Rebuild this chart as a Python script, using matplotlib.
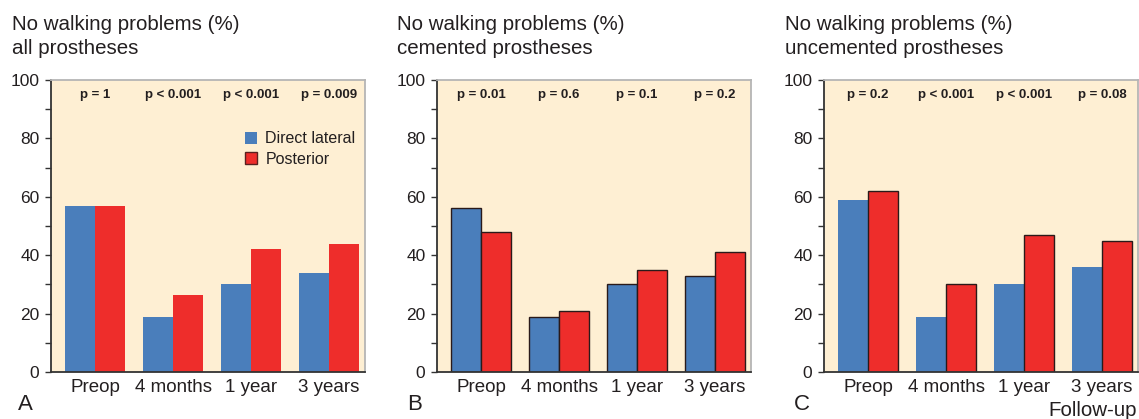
import matplotlib
matplotlib.use("Agg")
import numpy as np
import matplotlib.pyplot as plt
from matplotlib.ticker import MultipleLocator

plt.rcParams['font.family'] = ['Liberation Sans', 'DejaVu Sans']

# data
followup = ["Preop", "4 months", "1 year", "3 years"]
series_names = ["Direct lateral", "Posterior"]

all_lateral = [57, 19, 30, 34]
all_posterior = [57, 26.5, 42, 44]
all_pvals = ["p = 1", "p < 0.001", "p < 0.001", "p = 0.009"]

cem_lateral = [56, 19, 30, 33]
cem_posterior = [48, 21, 35, 41]
cem_pvals = ["p = 0.01", "p = 0.6", "p = 0.1", "p = 0.2"]

unc_lateral = [59, 19, 30, 36]
unc_posterior = [62, 30, 47, 45]
unc_pvals = ["p = 0.2", "p < 0.001", "p < 0.001", "p = 0.08"]

subtitles = ["all prostheses", "cemented prostheses", "uncemented prostheses"]
letters = ["A", "B", "C"]

BLUE = "#4a7ebb"
RED = "#ee2d2b"
BG = "#feefd3"
TXT = "#231f20"

W, H = 1139, 419
fig = plt.figure(figsize=(W / 100, H / 100), dpi=100)

# panel geometry in pixels: (axes left, title left, letter left)
panels = [(51, 12, 18), (437, 397, 407), (824, 785, 794)]
ax_w, ax_top, ax_bot = 314, 80, 372

data = [
    (all_lateral, all_posterior, all_pvals, (None, None)),
    (cem_lateral, cem_posterior, cem_pvals, ("#2a1a1a", "#2a1a1a")),
    (unc_lateral, unc_posterior, unc_pvals, (None, "#2a1a1a")),
]

x = np.arange(len(followup))
bw = 0.385

for i, ((axl, tl, ll), (lat, post, pv, edges)) in enumerate(zip(panels, data)):
    ax = fig.add_axes([axl / W, 1 - ax_bot / H, ax_w / W, (ax_bot - ax_top) / H])
    ax.set_facecolor(BG)
    kw1 = dict(edgecolor=edges[0], linewidth=1.0) if edges[0] else dict(linewidth=0)
    kw2 = dict(edgecolor=edges[1], linewidth=1.0) if edges[1] else dict(linewidth=0)
    ax.bar(x - bw / 2, lat, bw, color=BLUE, label=series_names[0], **kw1)
    ax.bar(x + bw / 2, post, bw, color=RED, label=series_names[1], **kw2)

    ax.set_xlim(-0.564, 3.46)
    ax.set_ylim(0, 100)
    ax.yaxis.set_major_locator(MultipleLocator(20))
    ax.yaxis.set_minor_locator(MultipleLocator(10))
    ax.tick_params(axis='y', which='both', length=4.3, width=1, color="#333333",
                   labelsize=12.5, labelcolor=TXT, pad=4)
    ax.set_xticks(x)
    ax.set_xticklabels(followup)
    ax.tick_params(axis='x', length=0, labelsize=13.5, labelcolor=TXT, pad=5)

    for s in ["left", "bottom"]:
        ax.spines[s].set_color("#333333")
        ax.spines[s].set_linewidth(1.3)
    for s in ["top", "right"]:
        ax.spines[s].set_color("#b5b5b5")
        ax.spines[s].set_linewidth(1.3)

    for xi, p in zip(x, pv):
        ax.text(xi, 95, p, ha='center', va='center', fontsize=9.5,
                fontweight='bold', color=TXT)

    if i == 0:
        leg = ax.legend(loc='upper right', bbox_to_anchor=(1.0, 0.857), frameon=False,
                        fontsize=11.5, handlelength=0.8, handleheight=0.8,
                        handletextpad=0.5, labelspacing=0.35, borderaxespad=0.2)
        for t in leg.get_texts():
            t.set_color(TXT)
        leg.legend_handles[1].set_edgecolor("#5a2020")
        leg.legend_handles[1].set_linewidth(1.0)

    fig.text(tl / W, 1 - 25 / H, "No walking problems (%)", ha='left', va='center',
             fontsize=14.8, color=TXT)
    fig.text(tl / W, 1 - 48 / H, subtitles[i], ha='left', va='center',
             fontsize=14.8, color=TXT)
    fig.text(ll / W, 1 - 404 / H, letters[i], ha='left', va='center',
             fontsize=16, color=TXT)

# axis caption at the lower right, kept just inside the figure edge
fig.text(1137 / W, 1 - 410 / H, "Follow-up", ha='right', va='center',
         fontsize=14.8, color=TXT)

fig.savefig("out.png", dpi=100, facecolor="white")
